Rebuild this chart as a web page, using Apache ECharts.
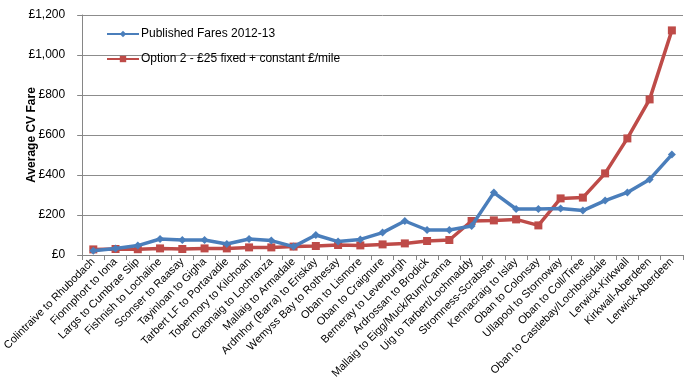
<!DOCTYPE html>
<html><head><meta charset="utf-8">
<script src="https://cdn.jsdelivr.net/npm/echarts@6/dist/echarts.min.js"></script>
<style>html,body{margin:0;padding:0;background:#fff}#c{width:685px;height:387px}</style>
</head><body><div id="c"></div>
<script>
const categories = ["Colintraive to Rhubodach","Fionnphort to Iona","Largs to Cumbrae Slip","Fishnish to Lochaline","Sconser to Raasay","Tayinloan to Gigha","Tarbert LF to Portavadie","Tobermory to Kilchoan","Claonaig to Lochranza","Mallaig to Armadale","Ardmhor (Barra) to Eriskay","Wemyss Bay to Rothesay","Oban to Lismore","Oban to Craignure","Berneray to Leverburgh","Ardrossan to Brodick","Mallaig to Eigg/Muck/Rum/Canna","Uig to Tarbert/Lochmaddy","Stromness-Scrabster","Kennacraig to Islay","Oban to Colonsay","Ullapool to Stornoway","Oban to Coll/Tiree","Oban to Castlebay/Lochboisdale","Lerwick-Kirkwall","Kirkwall-Aberdeen","Lerwick-Aberdeen"];
const publishedFares = [21,33,47,80,75,75,55,80,72,42,100,67,78,112,170,125,125,145,312,230,230,233,222,272,313,378,502];
const option2Fares = [28,30,29,33,30,33,33,38,38,42,45,50,48,53,58,70,75,170,173,178,148,283,287,408,583,778,1123];
const seriesNames = ["Published Fares 2012-13","Option 2 - £25 fixed + constant £/mile"];
const yTicks = {min:0,max:1200,interval:200};

const chart = echarts.init(document.getElementById('c'));
chart.setOption({
  animation:false,
  textStyle:{fontFamily:'Liberation Sans, Arial, sans-serif'},
  grid:{left:79,right:2,top:15,bottom:132},
  legend:{
    left:106, top:28, padding:0, orient:'vertical', itemGap:13, itemWidth:32, itemHeight:8,
    textStyle:{fontSize:12,color:'#000',padding:[0,0,0,-3],fontFamily:'Liberation Sans, Arial, sans-serif'},
    data:seriesNames
  },
  xAxis:{
    type:'category', data:categories, boundaryGap:true,
    axisLine:{lineStyle:{color:'#868686',width:1}},
    axisTick:{show:true,length:5,lineStyle:{color:'#868686'}},
    axisLabel:{rotate:45,interval:0,fontSize:11,color:'#000',margin:5,fontFamily:'Liberation Sans, Arial, sans-serif'}
  },
  yAxis:{
    type:'value', min:yTicks.min, max:yTicks.max, interval:yTicks.interval,
    name:'Average CV Fare', nameLocation:'middle', nameGap:44, nameMoveOverlap:false,
    nameTextStyle:{fontSize:12,fontWeight:'bold',color:'#000'},
    axisLine:{show:true,lineStyle:{color:'#868686'}},
    axisTick:{show:true,length:5,lineStyle:{color:'#868686'}},
    axisLabel:{fontSize:12,color:'#000',margin:17,formatter:v=>'£'+v.toLocaleString('en-GB')},
    splitLine:{lineStyle:{color:'#8c8c8c',width:1}}
  },
  series:[
    {name:seriesNames[0],type:'line',data:publishedFares,symbol:'diamond',symbolSize:8,
     itemStyle:{color:'#4A7EBB'},lineStyle:{width:3.5,color:'#4A7EBB'},z:3},
    {name:seriesNames[1],type:'line',data:option2Fares,symbol:'rect',symbolSize:8,
     itemStyle:{color:'#BE4B48'},lineStyle:{width:3.5,color:'#BE4B48'},z:2}
  ]
});
</script></body></html>
